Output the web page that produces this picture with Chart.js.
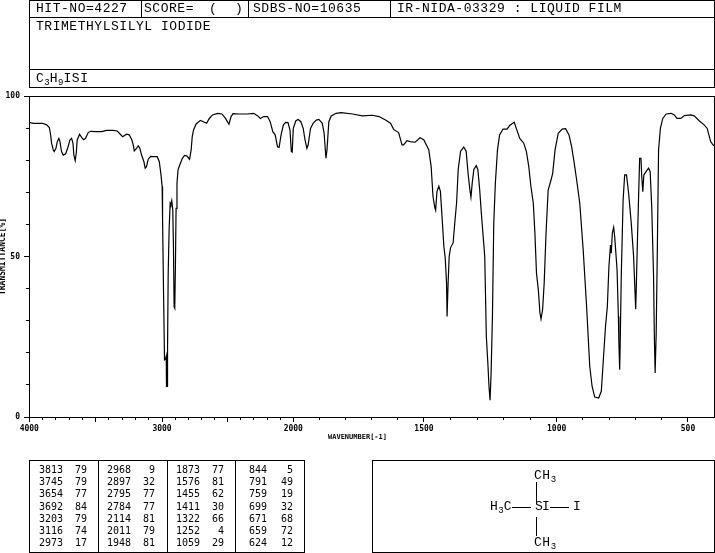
<!DOCTYPE html>
<html>
<head>
<meta charset="utf-8">
<style>
html,body{margin:0;padding:0;background:#fff;width:715px;height:553px;overflow:hidden}
#wrap{position:relative;width:715px;height:553px}
canvas{position:absolute;left:0;top:0}
.b{position:absolute;box-sizing:border-box;background:#000}
.t{position:absolute;white-space:pre;color:#000;height:14px;line-height:14px}
.h{font-family:"Liberation Mono",monospace;font-size:13px;letter-spacing:.53px}
.p{font-family:"DejaVu Sans Mono",monospace;font-size:10px}
sub{font-size:9px;line-height:0;vertical-align:-3px;letter-spacing:0}
</style>
</head>
<body>
<div id="wrap"><canvas id="c" width="715" height="553"></canvas></div>
<script src="https://cdn.jsdelivr.net/npm/chart.js@4/dist/chart.umd.js"></script>
<script>
const wavenumbers = [4000,3970,3900,3869,3849,3839,3832,3819,3812,3799,3789,3777,3769,3757,3744,3726,3711,3694,3681,3671,3664,3654,3646,3639,3621,3606,3591,3576,3556,3538,3493,3455,3418,3367,3337,3297,3267,3247,3227,3217,3209,3192,3179,3167,3154,3137,3127,3117,3104,3086,3066,3036,3021,3009,2999,2996,2988,2981,2973,2968,2966,2961,2958,2953,2946,2938,2933,2926,2918,2913,2908,2903,2898,2893,2886,2878,2865,2845,2828,2810,2790,2778,2770,2760,2740,2707,2685,2660,2640,2615,2577,2544,2519,2490,2474,2459,2414,2351,2301,2271,2251,2226,2196,2176,2156,2138,2120,2108,2093,2075,2058,2040,2025,2015,2008,2000,1990,1981,1971,1962,1955,1948,1943,1934,1924,1912,1902,1889,1882,1875,1871,1864,1855,1836,1817,1773,1735,1698,1672,1647,1628,1616,1597,1584,1578,1565,1553,1534,1515,1501,1482,1473,1466,1459,1456,1451,1444,1438,1432,1425,1420,1415,1413,1409,1405,1400,1390,1385,1377,1371,1362,1350,1341,1334,1327,1323,1318,1312,1303,1297,1290,1284,1271,1265,1259,1255,1251,1247,1242,1237,1231,1223,1215,1202,1187,1177,1160,1152,1139,1124,1114,1105,1097,1088,1082,1076,1069,1063,1059,1053,1047,1040,1032,1021,1015,1006,994,979,966,953,943,933,924,912,899,886,874,865,855,840,830,823,814,807,801,795,792,788,783,779,770,765,763,760,758,754,747,741,734,726,716,707,702,699,697,693,688,684,679,676,672,668,659,650,644,638,631,628,625,621,617,612,605,596,583,564,552,542,527,514,489,476,457,438,426,413,404,400];
const transmittance = [91.8,91.5,91.5,91,90.2,87.9,85.3,83.2,82.7,83.7,85.8,86.8,85.8,82.7,81.6,82,83.7,86.3,86.8,85.3,81.6,79.9,82.2,86.3,88.1,87.1,86.4,86.8,88.6,89,88.9,88.9,89.3,89.3,89.1,87.3,88.1,87.9,86.3,84.8,82.9,83.7,84.5,83.7,81.6,79.6,77.5,78,80.3,81.2,81.1,81.1,79.6,75.9,71.8,61.9,37.6,17.8,18,18.9,9.5,9.5,21.5,44.8,58.3,66.6,66.1,67.4,64.5,53.1,34.4,33.9,46.9,65,72.8,77,78.5,80.6,81.5,81.3,80.3,83.2,87.3,89.4,91.3,92.4,92,91.5,93,94.1,94.6,94.4,93.2,91.2,93.6,94.5,94.4,94.4,94.6,93.8,93,93.6,93.6,92,88.9,87.9,84.2,84,87.9,91,91.8,91.7,89.4,82.7,82.5,89.9,92.3,92.7,92,89.9,86.3,83.7,84.8,89.9,91.5,92.5,92.7,91.5,88.4,80.6,83.2,92,93.8,94.6,94.8,94.4,93.8,94,93.6,92.5,91.5,89.6,88.6,84.8,84.8,86.1,85.8,85.6,87,86.4,83.3,78.1,68.7,65.2,64.4,70.3,71.9,70.3,62.5,53.1,49.6,41.8,31.3,41.8,50,52.7,54.3,59.4,66.8,77.1,82.8,84.1,82.8,76.1,70.8,68.5,73,77.1,78.3,77.1,70.8,63.7,50,25.1,16.3,9.5,5.2,13.7,31.3,60.4,72.8,83.2,87.9,89.7,89.7,90.8,91.8,89.9,86.8,85.3,82.7,78,71.8,66.6,57.3,44.8,39.6,32.4,30.5,33.4,41.7,57.3,70.7,73.9,75.9,83.2,88.4,89.7,89.8,87.9,84.2,79,73.9,66.6,52.1,34.4,15.8,9.5,6.2,5.9,8,16.8,28.2,34.4,46.9,53.6,51,57.3,59.1,56.2,45.9,31.3,23,14.7,23,43.8,67.6,75.4,75.4,69.7,60.4,50,39.6,33.6,39.6,53.1,68.7,80.6,80.6,74.9,70.2,75.4,76.5,77.5,76.5,65.6,43.8,25.1,13.7,26.1,50,83.2,89.9,93,94.4,94.6,94.1,93,93,93.9,94.1,93.8,92.3,91,89.9,85.8,84.8,84.5];
const xLabels = [4000,3000,2000,1500,1000,500];
const yLabels = [0,50,100];
const peakWn = ["3813","3745","3654","3692","3203","3116","2973","2968","2897","2795","2784","2114","2011","1948","1873","1576","1455","1411","1322","1252","1059","844","791","759","699","671","659","624"];
const peakPct = ["79","79","77","84","79","74","17","9","32","77","77","81","79","81","77","81","62","30","66","4","29","5","49","19","32","68","72","12"];
const hitNo = "HIT-NO=4227", scoreLabel = "SCORE=", scoreBrackets = ["(",")"], sdbsNo = "SDBS-NO=10635", irNo = "IR-NIDA-03329 : LIQUID FILM", compound = "TRIMETHYLSILYL IODIDE";

const wrap = document.getElementById('wrap');
function bar(x,y,w,h){const d=document.createElement('div');d.className='b';d.style.cssText=`left:${x}px;top:${y}px;width:${w}px;height:${h}px`;wrap.appendChild(d);}
function box(x0,y0,x1,y1){bar(x0,y0,x1-x0+1,1);bar(x0,y1,x1-x0+1,1);bar(x0,y0,1,y1-y0+1);bar(x1,y0,1,y1-y0+1);}
function put(html,x,cy,cls,right){const d=document.createElement('div');d.className='t '+cls;d.innerHTML=html;
  d.style.top=(cy-7)+'px';
  if(right){d.style.left=(x-60)+'px';d.style.width='60px';d.style.textAlign='right';}else d.style.left=x+'px';
  wrap.appendChild(d);}

// header
box(29,0,714,87);bar(29,17,686,1);bar(29,69,686,1);
bar(141,0,1,17);bar(248,0,1,17);bar(390,0,1,17);
put(hitNo,36,9,'h');put(scoreLabel,144,9,'h');
put(scoreBrackets[0],209,9,'h');put(scoreBrackets[1],235,9,'h');
put(sdbsNo,253,9,'h');put(irNo,397,9,'h');
put(compound,36,27,'h');
put('C<sub>3</sub>H<sub>9</sub>ISI',36,79,'h');

// peak table
box(29,460,304,552);bar(98,460,1,92);bar(167,460,1,92);bar(235,460,1,92);
const rowY=[470,482,494,507,519,531,543];
const colWnRight=[63,131,200,267], colPctRight=[87,155,224,293];
peakWn.forEach((w,i)=>{const c=Math.floor(i/7),r=i%7;
  put(w,colWnRight[c],rowY[r],'p',true);put(peakPct[i],colPctRight[c],rowY[r],'p',true);});

// structure
box(372,460,714,552);
put('CH<sub>3</sub>',534,476,'h');put('CH<sub>3</sub>',534,543,'h');
put('H<sub>3</sub>C',490,507,'h');put('S',535,507,'h');put('I',542,507,'h');put('I',573,507,'h');
bar(536,482,1,20);bar(536,517,1,19);bar(512,507,19,1);bar(550,507,19,1);

// The instrument's axis is calibrated in sections, twice as wide per unit below 2000.
const axisKnotWn=[4000,3000,2000,1500,1000,500,400];
const axisKnotFrac=[0.0004,0.1942,0.3858,0.5766,0.7703,0.9620,1];
class SpectrumScale extends Chart.Scale{
  static id='spectrum';
  static defaults={};
  determineDataLimits(){this.min=400;this.max=4000;}
  buildTicks(){const s=this.options.tickStep,t=[];for(let v=4000;v>=500;v-=s)t.push({value:v});return t;}
  getLabelForValue(v){return String(v);}
  getPixelForValue(v){
    let i=0;while(i<axisKnotWn.length-2&&v<axisKnotWn[i+1])i++;
    const f=(axisKnotWn[i]-v)/(axisKnotWn[i]-axisKnotWn[i+1]);
    return this.getPixelForDecimal(axisKnotFrac[i]+f*(axisKnotFrac[i+1]-axisKnotFrac[i]));
  }
  getValueForPixel(p){
    const d=this.getDecimalForPixel(p);let i=0;while(i<axisKnotFrac.length-2&&d>axisKnotFrac[i+1])i++;
    return axisKnotWn[i]+(d-axisKnotFrac[i])/(axisKnotFrac[i+1]-axisKnotFrac[i])*(axisKnotWn[i+1]-axisKnotWn[i]);
  }
  drawTitle(){const c=this.ctx;c.save();c.translate(-14,0);super.drawTitle();c.restore();}
}
Chart.register(SpectrumScale);
const small={family:'"DejaVu Sans Mono"',size:8,weight:'bold'};
const frame={id:'frame',afterDatasetsDraw(ch){const a=ch.chartArea,c=ch.ctx;c.save();c.strokeStyle='#000';c.lineWidth=1;
  c.strokeRect(a.left+.5,a.top+.5,a.right-a.left,a.bottom-a.top);c.restore();}};
new Chart(document.getElementById('c'),{
  type:'line',
  data:{datasets:[{data:wavenumbers.map((w,i)=>({x:w,y:transmittance[i]})),borderColor:'#000',borderWidth:1.2,pointRadius:0,tension:0,fill:false}]},
  plugins:[frame],
  options:{
    responsive:false,animation:false,devicePixelRatio:1,events:[],
    layout:{padding:{left:0,top:96,right:1,bottom:112}},
    plugins:{legend:{display:false},tooltip:{enabled:false},title:{display:false}},
    scales:{
      x:{type:'spectrum',position:'bottom',tickStep:500,weight:0,
        afterFit(s){s.height=24;},
        grid:{drawOnChartArea:false,drawTicks:true,tickLength:5,color:'#000',tickColor:'#000'},border:{display:false},
        ticks:{autoSkip:false,maxRotation:0,padding:2,color:'#000',font:small,callback:v=>xLabels.includes(v)?String(v):''},
        title:{display:true,text:'WAVENUMBER[-1]',color:'#000',font:{family:'"DejaVu Sans Mono"',size:7,weight:'bold'},padding:0}},
      xMinor:{type:'spectrum',axis:'x',position:'bottom',tickStep:100,weight:-1,
        afterFit(s){s.height=0;},
        grid:{drawOnChartArea:false,tickLength:3,color:'#000',tickColor:'#000'},border:{display:false},ticks:{display:false,autoSkip:false}},
      y:{type:'linear',position:'left',min:0,max:100,weight:0,
        afterFit(s){s.width=29;},
        grid:{drawOnChartArea:false,tickLength:5,color:'#000',tickColor:'#000'},border:{display:false},
        ticks:{stepSize:50,padding:4,color:'#000',font:small,autoSkip:false,callback:v=>yLabels.includes(v)?String(v):''},
        title:{display:true,text:'TRANSMITTANCE[%]',color:'#000',font:{family:'"DejaVu Sans Mono"',size:8,weight:'bold',lineHeight:0.7},padding:0}},
      yMinor:{type:'linear',axis:'y',position:'left',min:0,max:100,weight:-1,
        afterFit(s){s.width=0;},
        grid:{drawOnChartArea:false,tickLength:3,color:'#000',tickColor:'#000'},border:{display:false},
        ticks:{display:false,stepSize:10,autoSkip:false}}
    }
  }
});
</script>
</body>
</html>
